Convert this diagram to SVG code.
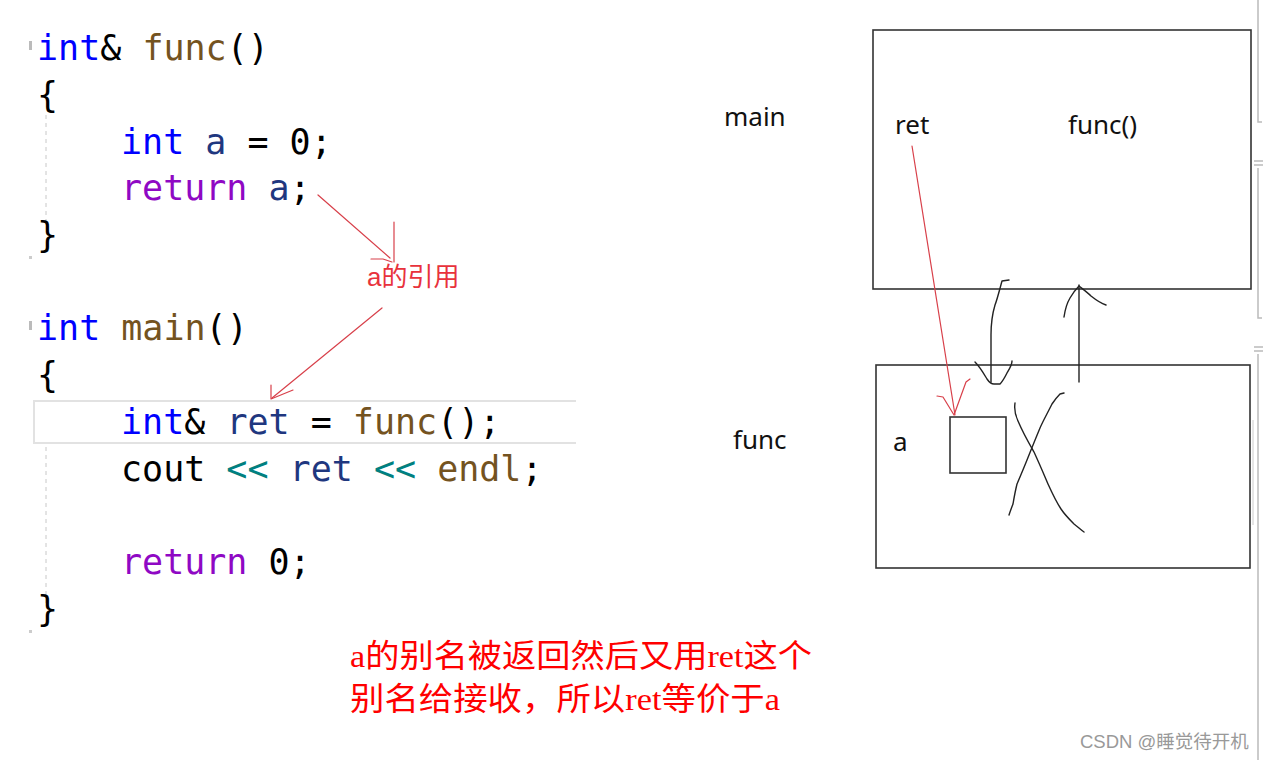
<svg xmlns="http://www.w3.org/2000/svg" width="1266" height="760" viewBox="0 0 1266 760">
<style>
.code{font-family:"DejaVu Sans Mono","Liberation Mono",monospace;font-size:35px;fill:#000;white-space:pre}
.kw{fill:#0000ff}.fn{fill:#74531f}.var{fill:#1f377f}.ret{fill:#8f08c4}.op{fill:#008080}
.lbl{font-family:"Noto Sans","Liberation Sans",sans-serif;font-size:26px;fill:#111}
.box{fill:none;stroke:#333;stroke-width:1.6}
.red{fill:none;stroke:#d8404a;stroke-width:1.2;stroke-linecap:round;stroke-linejoin:round}
.ink{fill:none;stroke:#222;stroke-width:1.4;stroke-linecap:round;stroke-linejoin:round}
.note{font-family:"Liberation Serif","Noto Sans CJK SC",serif;font-size:32px;fill:#ff0000}
.guide{stroke:#c8c8c8;stroke-width:1;stroke-dasharray:4 4}
.ui{stroke:#bbb;stroke-width:1.5;fill:none}
</style>
<rect width="1266" height="760" fill="#fff"/>
<g id="editor-ui">
<path d="M576,401 H34 V443 H576" fill="none" stroke="#e2e2e2" stroke-width="2"/>
<line class="guide" x1="46" y1="115" x2="46" y2="226"/>
<line class="guide" x1="46" y1="447" x2="46" y2="604"/>
<rect x="29" y="41" width="3" height="9" fill="#bbb"/>
<rect x="29" y="321" width="3" height="9" fill="#bbb"/>
<rect x="29" y="256" width="3" height="3" fill="#ccc"/>
<rect x="29" y="630" width="3" height="3" fill="#ccc"/>
<path class="ui" d="M1258,0 V122 H1262 M1254,161 H1263 M1254,165 H1263 M1258,168 V318 H1262 M1254,347 H1263 M1254,351 H1263 M1258,354 V760"/>
<line x1="1253" y1="420" x2="1253" y2="525" stroke="#ccc" stroke-width="1"/>
</g>
<g id="code">
<text class="code" x="37" y="60"><tspan class="kw">int</tspan>&amp; <tspan class="fn">func</tspan>()</text>
<text class="code" x="37" y="107">{</text>
<text class="code" x="121" y="154"><tspan class="kw">int</tspan> <tspan class="var">a</tspan> = 0;</text>
<text class="code" x="121" y="200"><tspan class="ret">return</tspan> <tspan class="var">a</tspan>;</text>
<text class="code" x="37" y="247">}</text>
<text class="code" x="37" y="340"><tspan class="kw">int</tspan> <tspan class="fn">main</tspan>()</text>
<text class="code" x="37" y="387">{</text>
<text class="code" x="121" y="434"><tspan class="kw">int</tspan>&amp; <tspan class="var">ret</tspan> = <tspan class="fn">func</tspan>();</text>
<text class="code" x="121" y="481">cout <tspan class="op">&lt;&lt;</tspan> <tspan class="var">ret</tspan> <tspan class="op">&lt;&lt;</tspan> <tspan class="fn">endl</tspan>;</text>
<text class="code" x="121" y="574"><tspan class="ret">return</tspan> 0;</text>
<text class="code" x="37" y="621">}</text>
</g>
<g id="label-ref">
<text x="367" y="286" font-family="Liberation Sans,Noto Sans CJK SC,sans-serif" font-size="26" fill="#e8323c">a的引用</text>
</g>
<g id="note">
<text class="note" x="350" y="667" textLength="462" lengthAdjust="spacingAndGlyphs">a的别名被返回然后又用ret这个</text>
<text class="note" x="350" y="710" textLength="430" lengthAdjust="spacingAndGlyphs">别名给接收，所以ret等价于a</text>
</g>
<g id="main-frame">
<text class="lbl" x="724" y="126">main</text>
<rect class="box" x="873" y="30" width="378" height="259"/>
<text class="lbl" x="895" y="134">ret</text>
<text class="lbl" x="1068" y="134">func()</text>
</g>
<g id="func-frame">
<text class="lbl" x="733" y="449">func</text>
<rect class="box" x="876" y="365" width="374" height="203"/>
<text class="lbl" x="893" y="451">a</text>
</g>
<g id="var-a">
<rect class="box" x="950" y="417" width="56" height="56"/>
</g>
<g id="cross">
<path class="ink" d="M1015,403 C1014,410 1016,417 1018,421 C1024,435 1030,445 1034,452 C1040,465 1045,477 1048,484 C1053,495 1057,503 1061,509 C1065,515 1070,520 1074,524 C1078,527 1081,530 1084,532"/>
<path class="ink" d="M1064,393 L1060,394 C1056,398 1054,401 1052,404 C1047,414 1043,421 1040,428 C1035,440 1031,450 1027,460 C1023,470 1020,477 1017,484 C1015,492 1014,498 1013,504 C1011,509 1010,512 1009,515"/>
</g>
<g id="connectors">
<path class="red" d="M318,195 L390,258"/>
<path class="red" d="M394,222 V262"/>
<path class="red" d="M371,259 H383 L392,262"/>
<path class="red" d="M382,308 L272,398"/>
<path class="red" d="M271,385 L271,399 L293,390"/>
<path class="red" d="M912,146 L955,415"/>
<path class="red" d="M937,396 L943,397 L954,415 L966,382 L970,379"/>
<path class="ink" d="M1009,280 L1002,281 C999,292 997,300 995,305 C992,315 991,325 991,335 L991,382"/>
<path class="ink" d="M975,362 C980,367 984,374 987,379 C989,382 991,384 994,384 L1000,384 C1003,381 1005,377 1007,373 C1010,368 1012,365 1012,361"/>
<path class="ink" d="M1079,382 V285"/>
<path class="ink" d="M1064,317 C1065,310 1067,303 1070,298 C1073,293 1076,289 1079,286 C1084,290 1088,293 1091,296 C1096,300 1100,303 1106,305"/>
</g>
<g id="watermark">
<text x="1080" y="748" font-family="Liberation Sans,Noto Sans CJK SC,sans-serif" font-size="18.5" fill="#999">CSDN @睡觉待开机</text>
</g>
</svg>
